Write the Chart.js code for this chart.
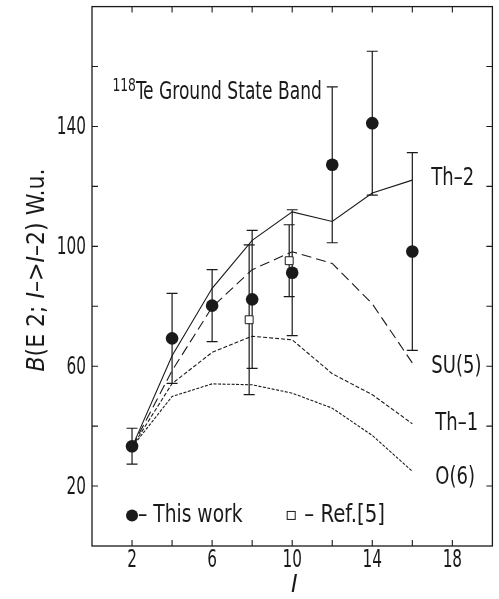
<!DOCTYPE html>
<html><head><meta charset="utf-8">
<script src="https://cdn.jsdelivr.net/npm/chart.js@4.4.1/dist/chart.umd.min.js"></script>
<style>html,body{margin:0;padding:0;background:#fff;}#wrap{width:499px;height:599px;}</style>
</head><body><div id="wrap"><canvas id="c" width="499" height="599"></canvas></div>
<script>
// ---- data ----
const SPINS = [2, 4, 6, 8, 10, 12, 14, 16];
const THIS_WORK = [33.3, 69.3, 80.2, 82.3, 91.2, 127.2, 141.1, 98.3];
const THIS_WORK_ERR = [6, 15, 12, 23, 21, 26, 24, 33];
const REF5_SPINS = [7.85, 9.85];
const REF5 = [75.5, 95.2];
const REF5_ERR = [25, 12];
const TH2 = [33, 63.5, 86, 102, 111.5, 108.3, 117.8, 122.1];
const SU5 = [33, 58.5, 79.7, 92.2, 98.2, 94.3, 80.8, 61.1];
const TH1 = [33, 54.2, 64.6, 70, 68.8, 57.5, 50.5, 40.8];
const O6 = [33, 49.9, 54.1, 53.8, 51, 46, 36.9, 24.9];
const X_TICK_LABELS = [2, 6, 10, 14, 18];
const Y_TICK_LABELS = [20, 60, 100, 140];
const CURVE_NAMES = ['Th\u20132', 'SU(5)', 'Th\u20131', 'O(6)'];

// ---- font choice ----
function pickFont(cands) {
  const c = document.createElement('canvas').getContext('2d');
  const s = 'abcdefghij0123456789WM';
  c.font = '20px monospace'; const w0 = c.measureText(s).width;
  for (const f of cands) {
    c.font = '20px "' + f + '", monospace';
    if (Math.abs(c.measureText(s).width - w0) > 0.5) return f;
  }
  return 'sans-serif';
}
const FONT = pickFont(['DejaVu Sans Condensed', 'Liberation Sans Narrow', 'Liberation Sans', 'Roboto']);
const K = FONT === 'DejaVu Sans Condensed' ? 1 : (FONT === 'Liberation Sans Narrow' ? 1.15 : 0.9);
const INK = '#1a1a1a';

function pts(xs, ys) { return xs.map((x, i) => ({x: x, y: ys[i]})); }

function drawText(ctx, segs, x, y, align, sx) {
  const S = Math.min(1, sx * K);
  let total = 0;
  for (const s of segs) { ctx.font = (s.italic ? 'italic ' : '') + s.size + 'px "' + FONT + '"'; s.w = ctx.measureText(s.t).width * S; total += s.w; }
  let cx = align === 'center' ? x - total / 2 : (align === 'right' ? x - total : x);
  for (const s of segs) {
    ctx.save();
    ctx.font = (s.italic ? 'italic ' : '') + s.size + 'px "' + FONT + '"';
    ctx.translate(cx, y + (s.dy || 0));
    ctx.scale(S, 1);
    ctx.textAlign = 'left'; ctx.textBaseline = 'middle';
    ctx.fillStyle = INK;
    ctx.fillText(s.t, 0, 0);
    ctx.restore();
    cx += s.w;
  }
  return total;
}

const decor = {
  id: 'decor',
  beforeDatasetsDraw(chart) {
    const {ctx, scales: {x, y}} = chart;
    ctx.save();
    ctx.strokeStyle = INK; ctx.lineWidth = 1.2;
    const bars = (xs, ys, es) => xs.forEach((xv, i) => {
      const px = x.getPixelForValue(xv), t = y.getPixelForValue(ys[i] + es[i]), b = y.getPixelForValue(ys[i] - es[i]);
      ctx.beginPath(); ctx.moveTo(px, t); ctx.lineTo(px, b);
      ctx.moveTo(px - 5.5, t); ctx.lineTo(px + 5.5, t);
      ctx.moveTo(px - 5.5, b); ctx.lineTo(px + 5.5, b); ctx.stroke();
    });
    bars(SPINS, THIS_WORK, THIS_WORK_ERR);
    bars(REF5_SPINS, REF5, REF5_ERR);
    ctx.restore();
  },
  afterDraw(chart) {
    const {ctx, chartArea: a, scales: {x, y}} = chart;
    ctx.save();
    ctx.strokeStyle = INK; ctx.lineWidth = 1.3;
    ctx.strokeRect(a.left, a.top, a.right - a.left, a.bottom - a.top);
    ctx.lineWidth = 1.1;
    ctx.beginPath();
    x.ticks.forEach(t => { if (t.value <= x.min || t.value >= x.max) return; const p = x.getPixelForValue(t.value);
      ctx.moveTo(p, a.bottom); ctx.lineTo(p, a.bottom - 6); ctx.moveTo(p, a.top); ctx.lineTo(p, a.top + 6); });
    y.ticks.forEach(t => { if (t.value <= y.min || t.value >= y.max) return; const p = y.getPixelForValue(t.value);
      ctx.moveTo(a.left, p); ctx.lineTo(a.left + 6, p); ctx.moveTo(a.right, p); ctx.lineTo(a.right - 6, p); });
    ctx.stroke();

    // tick labels (positions from the scales)
    X_TICK_LABELS.forEach(v => drawText(ctx, [{t: String(v), size: 25}], x.getPixelForValue(v), a.bottom + 14, 'center', 0.68));
    Y_TICK_LABELS.forEach(v => drawText(ctx, [{t: String(v), size: 25}], a.left - 6, y.getPixelForValue(v) + 1, 'right', 0.68));

    // title
    const tx = x.getPixelForValue(1.02), ty = y.getPixelForValue(151.3);
    drawText(ctx, [{t: '118', size: 18, dy: -6}, {t: 'Te Ground State Band', size: 25}], tx, ty, 'left', 0.76);

    // curve names
    const namePos = [[16.95, 122.6], [16.95, 59.9], [17.15, 41.0], [17.15, 22.7]];
    CURVE_NAMES.forEach((n, i) => drawText(ctx, [{t: n, size: 25}], x.getPixelForValue(namePos[i][0]), y.getPixelForValue(namePos[i][1]), 'left', 0.8));

    // legend
    const ly = y.getPixelForValue(10.2);
    const d1 = x.getPixelForValue(2);
    ctx.fillStyle = INK; ctx.beginPath(); ctx.arc(d1, ly, 6, 0, Math.PI * 2); ctx.fill();
    drawText(ctx, [{t: '\u2013 This work', size: 25}], d1 + 6, ly, 'left', 0.83);
    const d2 = x.getPixelForValue(9.95);
    ctx.fillStyle = '#fff'; ctx.strokeStyle = INK; ctx.lineWidth = 1;
    ctx.fillRect(d2 - 4, ly - 4, 8, 8); ctx.strokeRect(d2 - 4, ly - 4, 8, 8);
    drawText(ctx, [{t: '\u2013 Ref.[5]', size: 25}], d2 + 13, ly, 'left', 0.88);

    // x title
    drawText(ctx, [{t: 'I', size: 25, italic: true}], (a.left + a.right) / 2 + 2, 585, 'center', 1);

    // y title (rotated)
    ctx.save();
    ctx.translate(37, 270);
    ctx.rotate(-Math.PI / 2);
    drawText(ctx, [{t: 'B', size: 25, italic: true}, {t: '(E 2; ', size: 25}, {t: 'I', size: 25, italic: true},
      {t: '\u2013>', size: 25}, {t: 'I', size: 25, italic: true}, {t: '\u20132) W.u.', size: 25}], 0, 0, 'center', 0.98);
    ctx.restore();
    ctx.restore();
  }
};

const lineDs = (label, data, dash) => ({
  label, data: pts(SPINS, data), showLine: true, borderColor: INK, borderWidth: 1.1,
  borderDash: dash, pointRadius: 0, fill: false, tension: 0
});

new Chart(document.getElementById('c'), {
  type: 'scatter',
  data: {
    datasets: [
      lineDs(CURVE_NAMES[0], TH2, []),
      lineDs(CURVE_NAMES[1], SU5, [10, 5]),
      lineDs(CURVE_NAMES[2], TH1, [4, 2]),
      lineDs(CURVE_NAMES[3], O6, [3, 1.5]),
      {label: 'This work', data: pts(SPINS, THIS_WORK), showLine: false, pointStyle: 'circle', pointRadius: 6.3,
        backgroundColor: INK, borderColor: INK, borderWidth: 0},
      {label: 'Ref.[5]', data: pts(REF5_SPINS, REF5), showLine: false, pointStyle: 'rect', pointRadius: 5.6,
        backgroundColor: '#fff', borderColor: INK, borderWidth: 1}
    ]
  },
  options: {
    responsive: false, animation: false, devicePixelRatio: 1,
    layout: {padding: {top: 6, right: 2, left: 0, bottom: 0}},
    plugins: {legend: {display: false}, tooltip: {enabled: false}},
    scales: {
      x: {
        type: 'linear', min: 0, max: 20,
        grid: {display: false}, border: {display: false},
        afterFit: s => { s.height = 53; },
        ticks: {stepSize: 2, autoSkip: false, display: false}
      },
      y: {
        type: 'linear', min: 0, max: 180,
        grid: {display: false}, border: {display: false},
        afterFit: s => { s.width = 92; },
        ticks: {stepSize: 20, autoSkip: false, display: false}
      }
    }
  },
  plugins: [decor]
});
</script>
</body></html>
